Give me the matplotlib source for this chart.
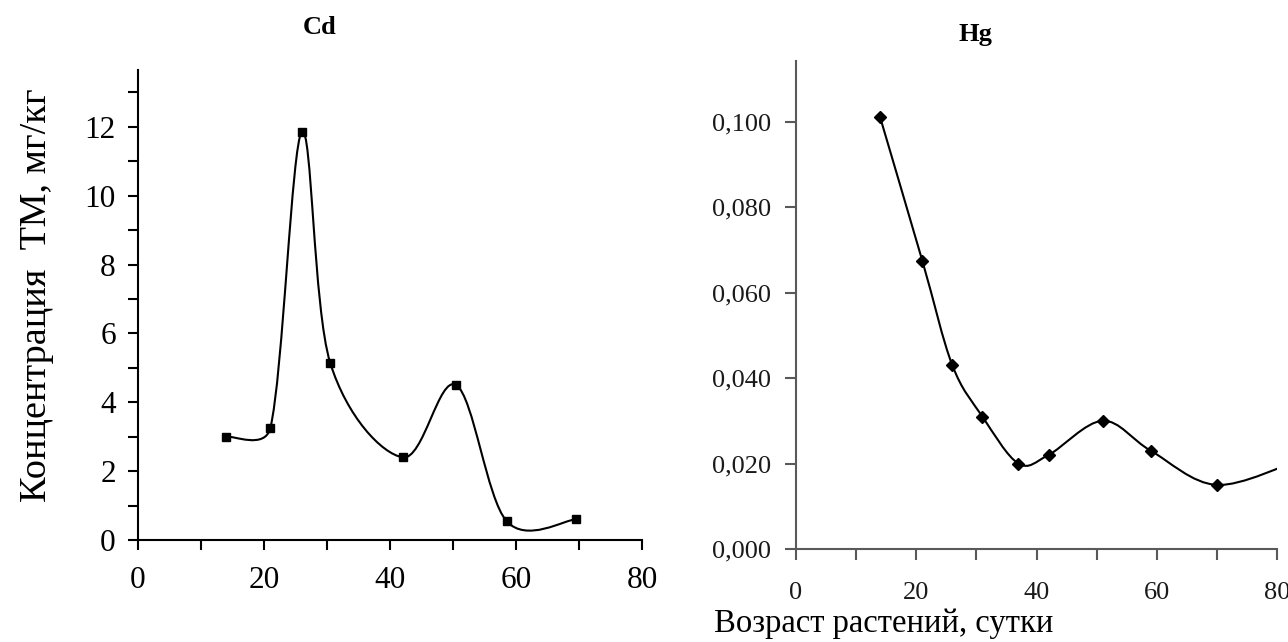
import numpy as np
import matplotlib
matplotlib.use("Agg")
import matplotlib.pyplot as plt
from matplotlib.path import Path
from matplotlib.patches import PathPatch
from matplotlib.ticker import FixedLocator, MultipleLocator

plt.rcParams['font.family'] = ['Liberation Serif', 'DejaVu Serif']

# Cd and Hg concentration vs. plant age (days)
cd_days = [14, 21, 26, 30.5, 42, 50.5, 58.5, 69.5]
cd_conc = [3.0, 3.25, 11.85, 5.15, 2.4, 4.5, 0.55, 0.6]

hg_days = [14, 21, 26, 31, 37, 42, 51, 59, 70, 84]
hg_conc = [0.101, 0.0675, 0.043, 0.031, 0.020, 0.022, 0.030, 0.023, 0.015, 0.021]

x_ticks = [0, 20, 40, 60, 80]
cd_yticks = [0, 2, 4, 6, 8, 10, 12]
hg_yticks = [0.0, 0.02, 0.04, 0.06, 0.08, 0.10]
hg_ylabels = ['0,000', '0,020', '0,040', '0,060', '0,080', '0,100']


def smooth_path(ax, xs, ys, limit=0.5):
    """Spreadsheet-style smoothed line: Catmull-Rom beziers built in screen space."""
    pts = ax.transData.transform(np.column_stack([xs, ys]))
    n = len(pts)
    verts = [pts[0]]
    codes = [Path.MOVETO]
    for i in range(n - 1):
        p0 = pts[max(i - 1, 0)]
        p1 = pts[i]
        p2 = pts[i + 1]
        p3 = pts[min(i + 2, n - 1)]
        chord = np.hypot(*(p2 - p1))
        h1 = (p2 - p0) / 6
        h2 = (p3 - p1) / 6
        for h in (h1, h2):
            ln = np.hypot(*h)
            if ln > limit * chord:
                h *= limit * chord / ln
        verts += [p1 + h1, p2 - h2, p2]
        codes += [Path.CURVE4] * 3
    return Path(ax.transData.inverted().transform(verts), codes)


fig = plt.figure(figsize=(12.88, 6.42), dpi=100)

# --- Cd ---
ax1 = fig.add_axes([138 / 1288, 1 - 540 / 642, 504 / 1288, 470 / 642])
ax1.set_xlim(0, 80)
ax1.set_ylim(0, 13.65)
for s in ('top', 'right'):
    ax1.spines[s].set_visible(False)
for s in ('left', 'bottom'):
    ax1.spines[s].set_linewidth(1.5)
ax1.xaxis.set_major_locator(FixedLocator(x_ticks))
ax1.xaxis.set_minor_locator(MultipleLocator(10))
ax1.yaxis.set_major_locator(FixedLocator(cd_yticks))
ax1.yaxis.set_minor_locator(MultipleLocator(1))
ax1.tick_params(axis='both', which='both', direction='out', length=7, width=1.5)
ax1.tick_params(axis='x', which='major', pad=12, labelsize=22.5)
ax1.tick_params(axis='y', which='major', pad=9, labelsize=22.5)

ax1.add_patch(PathPatch(smooth_path(ax1, cd_days, cd_conc), fill=False, lw=1.5, color='k'))
ax1.plot(cd_days, cd_conc, ls='none', marker='s', ms=5.5, color='k')

# --- Hg ---
grey = '#595959'
ax2 = fig.add_axes([796 / 1288, 1 - 549 / 642, 481 / 1288, 488 / 642])
ax2.set_xlim(0, 80)
ax2.set_ylim(0, 0.1142)
for s in ('top', 'right'):
    ax2.spines[s].set_visible(False)
for s in ('left', 'bottom'):
    ax2.spines[s].set_linewidth(1.5)
    ax2.spines[s].set_color(grey)
ax2.xaxis.set_major_locator(FixedLocator(x_ticks))
ax2.xaxis.set_minor_locator(MultipleLocator(10))
ax2.yaxis.set_major_locator(FixedLocator(hg_yticks))
ax2.set_yticklabels(hg_ylabels)
ax2.tick_params(axis='both', which='both', direction='out', length=8, width=1.5, color=grey)
ax2.tick_params(axis='x', which='major', pad=16, labelsize=19, labelcolor='#1a1a1a')
ax2.tick_params(axis='y', which='major', pad=10, labelsize=19, labelcolor='#1a1a1a')

ax2.add_patch(PathPatch(smooth_path(ax2, hg_days, hg_conc), fill=False, lw=1.5, color='k'))
ax2.plot(hg_days, hg_conc, ls='none', marker='D', ms=6.5, color='k')

# titles and axis captions
fig.text(320 / 1288, 1 - 27.5 / 642, 'Cd', ha='center', va='center', fontsize=19, fontweight='bold')
fig.text(975 / 1288, 1 - 34 / 642, 'Hg', ha='center', va='center', fontsize=19, fontweight='bold')
fig.text(37 / 1288, 1 - 295 / 642, 'Концентрация  ТМ, мг/кг', rotation=90,
         ha='center', va='center', fontsize=27.5)
fig.text(884 / 1288, 1 - 632 / 642, 'Возраст растений, сутки', ha='center', va='baseline', fontsize=23.5)

fig.savefig('out.png', dpi=100)
